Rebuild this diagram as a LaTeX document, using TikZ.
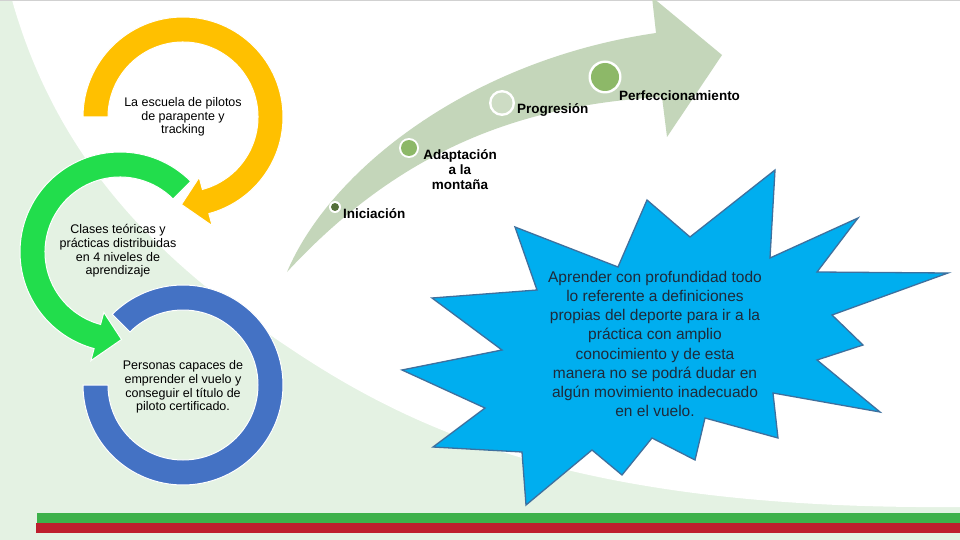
\documentclass[tikz,border=0pt]{standalone}
\usepackage{fontspec}
\setmainfont{Liberation Sans}
\usetikzlibrary{calc}
\definecolor{bgGreen}{RGB}{228,242,227}
\definecolor{bandGreen}{RGB}{196,214,186}
\definecolor{orng}{RGB}{255,192,0}
\definecolor{grn}{RGB}{34,221,76}
\definecolor{blu}{RGB}{68,114,196}
\definecolor{dotDark}{RGB}{84,112,58}
\definecolor{dotMid}{RGB}{141,184,104}
\definecolor{starFill}{RGB}{0,174,239}
\definecolor{starLine}{RGB}{62,112,158}
\definecolor{starText}{RGB}{30,42,58}
\definecolor{barGreen}{RGB}{61,177,74}
\definecolor{barRed}{RGB}{190,30,45}
\tikzset{
  ringtext/.style={align=center, font=\fontsize{12.5}{13.7}\selectfont, text=black, inner sep=0pt},
  steplabel/.style={font=\fontsize{13.5}{15}\selectfont\bfseries, text=black, inner sep=0pt},
  ringfill/.style={draw=white, line width=1pt},
}
\begin{document}
\begin{tikzpicture}[x=1pt,y=-1pt]
\useasboundingbox (0,0) rectangle (960,540);
% background
\fill[bgGreen] (0,0) rectangle (960,540);
\fill[white] (12,0) .. controls (60,170) and (170,270) .. (300,355)
  .. controls (430,440) and (600,510) .. (960,507) -- (960,0) -- cycle;
\draw[black!18, line width=1.5pt] (0,0.75) -- (960,0.75);

% bottom bars
\fill[barGreen] (37,513) rectangle (960,523);
\fill[barRed] (36,523) rectangle (960,533);

% big curved arrow
\fill[bandGreen] (287,272) .. controls (330,170) and (470,60) .. (656,33)
  -- (652,-3) -- (722,55) -- (667,137) -- (662,97)
  .. controls (520,105) and (400,150) .. (287,272) -- cycle;

% dots
\fill[white] (335,207) circle[radius=6];
\fill[dotDark] (335,207) circle[radius=4];
\fill[white] (409,148) circle[radius=10];
\fill[dotMid] (409,148) circle[radius=8];
\fill[white] (502,103) circle[radius=13];
\fill[bandGreen!85!white] (502,103) circle[radius=10.5];
\fill[white] (605,77) circle[radius=16.5];
\fill[dotMid] (605,77) circle[radius=14];

\node[steplabel, anchor=west] (ini) at (343,214) {Iniciación};
\node[steplabel, align=center] (ada) at (460,170) {Adaptación\\a la\\montaña};
\node[steplabel, anchor=west] (pro) at (517,110) {Progresión};
\node[steplabel, anchor=west] (per) at (619,96) {Perfeccionamiento};

% blue ring (no head)
\coordinate (cb) at (183,385);
\fill[blu, ringfill] ($(cb)+(-135:100)$) arc[start angle=-135, end angle=180, radius=100]
  -- ($(cb)+(180:75)$) arc[start angle=180, end angle=-135, radius=75] -- cycle;

% green ring
\coordinate (cg) at (120,252);
\fill[grn, ringfill] ($(cg)+(-45:100)$) arc[start angle=-45, end angle=-255, radius=100]
  -- ($(cg)+(-255:112.5)$) -- ($(cg)+(-271:87.5)$) -- ($(cg)+(-255:62.5)$)
  -- ($(cg)+(-255:75)$) arc[start angle=-255, end angle=-45, radius=75] -- cycle;

% orange ring
\coordinate (co) at (183,117);
\fill[orng, ringfill] ($(co)+(-180:100)$) arc[start angle=-180, end angle=75, radius=100]
  -- ($(co)+(75:112.5)$) -- ($(co)+(91:87.5)$) -- ($(co)+(75:62.5)$)
  -- ($(co)+(75:75)$) arc[start angle=75, end angle=-180, radius=75] -- cycle;

\node[ringtext] (t1) at (183,117) {La escuela de pilotos\\de parapente y\\tracking};
\node[ringtext] (t2) at (118,251) {Clases teóricas y\\prácticas distribuidas\\en 4 niveles de\\aprendizaje};
\node[ringtext] (t3) at (183,387) {Personas capaces de\\emprender el vuelo y\\conseguir el título de\\piloto certificado.};

% star
\draw[fill=starFill, draw=starLine, line width=1.3pt, line join=miter]
  (515,227) -- (618,267) -- (647,200) -- (690,237) -- (775,170) -- (770,258)
  -- (858,218) -- (817,272) -- (948,273) -- (832,315) -- (863,345) -- (817,360)
  -- (880,412) -- (773,393) -- (778,438) -- (705,418) -- (695,460) -- (652,438)
  -- (622,475) -- (592,450) -- (526,505) -- (522,452) -- (433,447) -- (485,408)
  -- (402,370) -- (502,350) -- (432,298) -- (537,290) -- cycle;
\node[align=center, text=starText, font=\fontsize{15.5}{19.2}\selectfont, inner sep=0pt] (st) at (655,344)
  {Aprender con profundidad todo\\lo referente a definiciones\\propias del deporte para ir a la\\práctica con amplio\\conocimiento y de esta\\manera no se podrá dudar en\\algún movimiento inadecuado\\en el vuelo.};
\end{tikzpicture}
\end{document}
